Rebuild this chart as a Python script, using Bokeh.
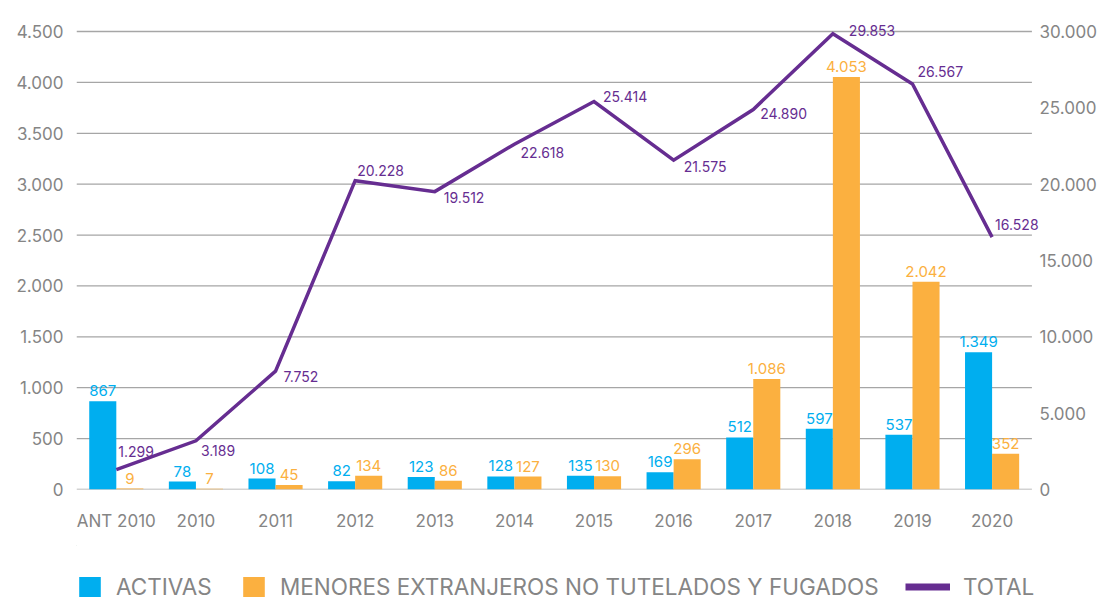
from bokeh.plotting import figure
from bokeh.models import (ColumnDataSource, Range1d, LinearAxis, Legend, LegendItem,
                          FixedTicker, CustomJSTickFormatter)
from bokeh.layouts import column
from bokeh.core.properties import value
from bokeh.embed import file_html
from bokeh.resources import INLINE

categories = ["ANT 2010", "2010", "2011", "2012", "2013", "2014", "2015",
              "2016", "2017", "2018", "2019", "2020"]
activas = [867, 78, 108, 82, 123, 128, 135, 169, 512, 597, 537, 1349]
menores = [9, 7, 45, 134, 86, 127, 130, 296, 1086, 4053, 2042, 352]
total = [1299, 3189, 7752, 20228, 19512, 22618, 25414, 21575, 24890, 29853, 26567, 16528]

series_names = ["ACTIVAS", "MENORES EXTRANJEROS NO TUTELADOS Y FUGADOS", "TOTAL"]

left_ticks = [0, 500, 1000, 1500, 2000, 2500, 3000, 3500, 4000, 4500]
right_ticks = [0, 5000, 10000, 15000, 20000, 25000, 30000]
left_max, right_max = 4500, 30000

# label placement tweaks (screen px) for the TOTAL labels
total_dx = [2, 5, 8, 2, 9, 6, 9, 10, 7, 16, 5, 3]
total_dy = [-18, 10, 5, -10, 6, 8, -5, 6, 4, -3, -12, -13]

BLUE = "#00AEEF"
ORANGE = "#FBB040"
PURPLE = "#662D91"
GRAY = "#858585"
GRID = "#a6a6a6"
FONT = "Inter"


def fmt(n):
    return f"{n:,}".replace(",", ".")


xs = list(range(len(categories)))
src = ColumnDataSource(dict(
    x=xs, activas=activas, menores=menores, total=total,
    a_lbl=[fmt(v) for v in activas], m_lbl=[fmt(v) for v in menores],
    t_lbl=[fmt(v) for v in total], dx=total_dx, dy=total_dy,
))

# frame geometry
W, H = 1099, 545
F_LEFT, F_RIGHT, F_TOP, F_BOTTOM = 76, 1040, 18, 489
AXIS_PX = 458            # pixels between value 0 and the top tick
UNIT_PX = 79.7           # pixels per category
frame_h = F_BOTTOM - F_TOP
pad = frame_h / AXIS_PX
x_end = -0.5 + (F_RIGHT - F_LEFT) / UNIT_PX

p = figure(width=W, height=H, x_range=Range1d(-0.5, x_end),
           y_range=Range1d(0, left_max * pad), output_backend="svg", toolbar_location=None,
           min_border_left=F_LEFT, min_border_right=W - F_RIGHT, min_border_top=F_TOP,
           min_border_bottom=H - F_BOTTOM)
p.extra_y_ranges = {"total": Range1d(0, right_max * pad)}
p.outline_line_color = None
p.xgrid.grid_line_color = None
p.ygrid.grid_line_color = None

fmt_js = CustomJSTickFormatter(code="return tick.toString().replace(/\\B(?=(\\d{3})+(?!\\d))/g, '.');")

p.yaxis[0].ticker = FixedTicker(ticks=left_ticks)
ax_r = LinearAxis(y_range_name="total", ticker=FixedTicker(ticks=right_ticks))
p.add_layout(ax_r, "right")
p.xaxis[0].ticker = FixedTicker(ticks=xs)
p.xaxis[0].major_label_overrides = {i: c for i, c in enumerate(categories)}

for ax in [p.yaxis[0], ax_r, p.xaxis[0]]:
    ax.axis_line_color = None
    ax.major_tick_line_color = None
    ax.minor_tick_line_color = None
    ax.major_tick_out = 0
    ax.major_tick_in = 0
    ax.minor_tick_out = 0
    ax.major_label_text_color = GRAY
    ax.major_label_text_font = FONT
    ax.major_label_text_font_size = "17px"
p.yaxis[0].formatter = fmt_js
ax_r.formatter = fmt_js
p.yaxis[0].major_label_standoff = 13
ax_r.major_label_standoff = 0
p.xaxis[0].major_label_standoff = 21

# horizontal grid lines across the category span
n = len(categories)
p.segment(x0=[-0.5] * len(left_ticks), x1=[n - 0.5] * len(left_ticks),
          y0=left_ticks, y1=left_ticks, line_color=GRID, line_width=1.3)

w = 0.34
r_a = p.vbar(x=[i - w / 2 for i in xs], top=activas, width=w,
             fill_color=BLUE, line_color=None)
r_m = p.vbar(x=[i + w / 2 for i in xs], top=menores, width=w,
             fill_color=ORANGE, line_color=None)

p.text(x=[i - w / 2 for i in xs], y=activas, text=[fmt(v) for v in activas],
       text_align="center", text_baseline="bottom", y_offset=-5,
       text_color=BLUE, text_font=value(FONT), text_font_size="15px")
p.text(x=[i + w / 2 for i in xs], y=menores, text=[fmt(v) for v in menores],
       text_align="center", text_baseline="bottom", y_offset=-5,
       text_color=ORANGE, text_font=value(FONT), text_font_size="15px")

r_t = p.line(x="x", y="total", source=src, y_range_name="total",
             line_color=PURPLE, line_width=3.5, line_join="miter")
p.text(x="x", y="total", text="t_lbl", source=src, y_range_name="total",
       x_offset="dx", y_offset="dy", text_align="left", text_baseline="middle",
       text_color=PURPLE, text_font=value(FONT), text_font_size="14px")

# ---- legend strip (its frame is aligned with the main frame by the column layout) ----
LH = 599 - H
lf = figure(width=W, height=LH, output_backend="svg", toolbar_location=None,
            x_axis_location=None, y_axis_location=None, min_border=0,
            x_range=Range1d(0, 1), y_range=Range1d(0, 1))
lf.outline_line_color = None
lf.grid.grid_line_color = None
# off-range dummy renderers that only serve as legend swatches
la = lf.vbar(x=[-10], bottom=[5], top=[6], width=0.1, fill_color=BLUE, line_color=None)
lm = lf.vbar(x=[-10], bottom=[5], top=[6], width=0.1, fill_color=ORANGE, line_color=None)
lt = lf.line(x=[-10, -9], y=[5, 5], line_color=PURPLE, line_width=7)


def mk_legend(label, rend, x, gw):
    lg = Legend(items=[LegendItem(label=label, renderers=[rend])], location=(x, -1),
                orientation="horizontal", glyph_width=gw, glyph_height=25,
                label_standoff=13, spacing=0, padding=0, margin=0,
                border_line_color=None, background_fill_alpha=0,
                label_text_font=FONT, label_text_font_size="22.5px",
                label_text_color=GRAY, label_height=25, label_text_baseline="middle")
    lf.add_layout(lg, "center")


mk_legend(series_names[0], la, 0, 27)
mk_legend(series_names[1], lm, 164, 27)
mk_legend(series_names[2], lt, 829, 45)

open("out.html", "w").write(file_html(column(p, lf, spacing=0), INLINE))
